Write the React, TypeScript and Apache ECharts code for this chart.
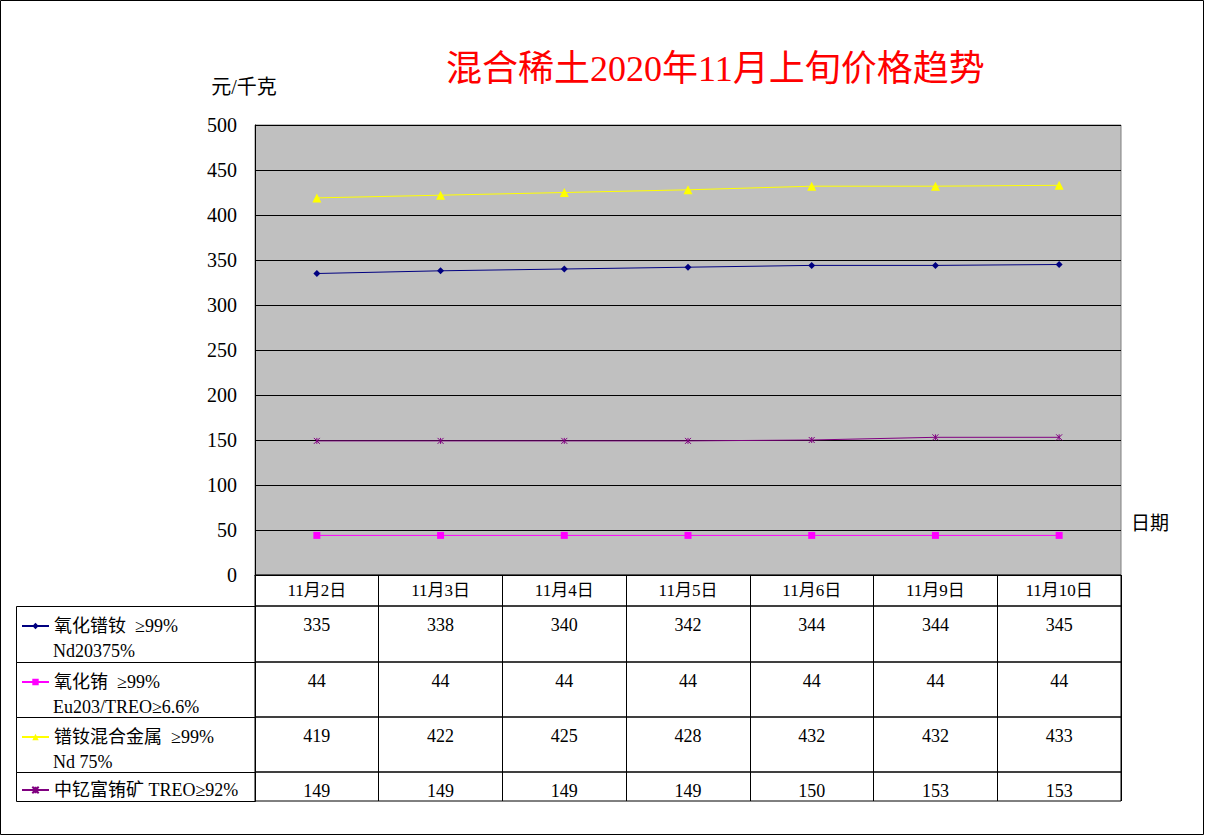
import * as echarts from 'echarts'
import React, { useEffect, useRef } from 'react'

const FONT = '"Liberation Serif", "Noto Sans CJK SC", serif'

const categories = ['11月2日', '11月3日', '11月4日', '11月5日', '11月6日', '11月9日', '11月10日']
const seriesNames = ['氧化镨钕  ≥99%', '氧化铕  ≥99%', '镨钕混合金属  ≥99%', '中钇富铕矿 TREO≥92%']
const seriesNotes = ['Nd20375%', 'Eu203/TREO≥6.6%', 'Nd 75%', '']
const ndOxide = [335, 338, 340, 342, 344, 344, 345]
const euOxide = [44, 44, 44, 44, 44, 44, 44]
const ndMetal = [419, 422, 425, 428, 432, 432, 433]
const yOre = [149, 149, 149, 149, 150, 153, 153]
const seriesData = [ndOxide, euOxide, ndMetal, yOre]
const seriesColors = ['#000080', '#FF00FF', '#FFFF00', '#800080']
const seriesSymbols = ['diamond', 'rect', 'triangle', 'path://M0,0L8,8M8,0L0,8M4,0L4,8']
const symbolSizes = [7, 7, 9, 6]

// table rows: [top, height] under the plot
const rowBoxes = [
  [606, 56],
  [662, 55],
  [717, 55],
  [772, 29],
]

export default function App() {
  const chartRef = useRef(null)

  useEffect(() => {
    document.body.style.margin = '0'
    const chart = echarts.init(chartRef.current, null, { renderer: 'svg' })

    const plotLeft = 255
    const plotWidth = 866

    const grids: any[] = [
      {
        left: plotLeft,
        top: 125,
        width: plotWidth,
        height: 450,
        show: true,
        backgroundColor: '#C0C0C0',
        borderColor: '#808080',
        borderWidth: 1,
      },
      {
        left: plotLeft,
        top: 575,
        width: plotWidth,
        height: 31,
        show: true,
        borderColor: '#000',
        borderWidth: 1,
      },
    ]
    rowBoxes.forEach(([top, h]) => {
      grids.push({
        left: plotLeft,
        top,
        width: plotWidth,
        height: h,
        show: true,
        borderColor: '#000',
        borderWidth: 1,
      })
    })

    const xAxes: any[] = [
      {
        type: 'category',
        data: categories,
        gridIndex: 0,
        axisLine: { show: true, lineStyle: { color: '#000' } },
        axisTick: { show: false },
        axisLabel: {
          interval: 0,
          margin: 7,
          color: '#000',
          fontSize: 17,
          fontFamily: FONT,
        },
        name: '日期',
        nameLocation: 'end',
        nameGap: 10,
        nameTextStyle: {
          color: '#000',
          fontSize: 19,
          fontFamily: FONT,
          align: 'left',
          verticalAlign: 'bottom',
          padding: [0, 0, 42, 0],
        },
      },
      {
        type: 'category',
        data: categories,
        gridIndex: 1,
        axisLine: { show: false },
        axisTick: { show: false },
        axisLabel: { show: false },
        splitLine: { show: true, interval: 0, lineStyle: { color: '#000' } },
      },
    ]
    seriesData.forEach((vals, i) => {
      xAxes.push({
        type: 'category',
        data: categories,
        gridIndex: i + 2,
        position: 'top',
        axisLine: { show: false },
        axisTick: { show: false },
        splitLine: { show: true, interval: 0, lineStyle: { color: '#000' } },
        axisLabel: {
          inside: true,
          interval: 0,
          margin: 10,
          color: '#000',
          fontSize: 18,
          fontFamily: FONT,
          formatter: (_: string, idx: number) => String(vals[idx]),
        },
      })
    })

    const yAxes: any[] = [
      {
        type: 'value',
        gridIndex: 0,
        min: 0,
        max: 500,
        interval: 50,
        axisLine: { show: true, lineStyle: { color: '#000' } },
        axisTick: { show: false },
        splitLine: { show: true, lineStyle: { color: '#000', width: 1 } },
        axisLabel: { color: '#000', fontSize: 20, fontFamily: FONT, margin: 18 },
        name: '元/千克',
        nameLocation: 'end',
        nameGap: 28,
        nameTextStyle: {
          color: '#000',
          fontSize: 20,
          fontFamily: FONT,
          padding: [0, 22, 0, 0],
        },
      },
    ]
    for (let i = 1; i < grids.length; i++) {
      yAxes.push({ type: 'value', gridIndex: i, min: 0, max: 1, show: false })
    }

    const legends = seriesNames.map((name, i) => ({
      data: [name],
      left: 21,
      top: rowBoxes[i][0] + (i === 3 ? 9 : 11),
      padding: 0,
      itemWidth: 27,
      itemHeight: 8,
      itemGap: 5,
      selectedMode: false,
      textStyle: { color: '#000', fontSize: 18, fontFamily: FONT },
    }))

    const graphics: any[] = [
      {
        type: 'rect',
        shape: { x: 0.5, y: 0.5, width: 1203, height: 834 },
        style: { fill: 'none', stroke: '#000', lineWidth: 1 },
        silent: true,
      },
    ]
    rowBoxes.forEach(([top, h], i) => {
      graphics.push({
        type: 'rect',
        shape: { x: 16.5, y: top + 0.5, width: plotLeft - 16, height: h },
        style: { fill: 'none', stroke: '#000', lineWidth: 1 },
        silent: true,
      })
      if (seriesNotes[i]) {
        graphics.push({
          type: 'text',
          x: 53,
          y: top + 45,
          style: {
            text: seriesNotes[i],
            fill: '#000',
            fontSize: 18,
            fontFamily: FONT,
            verticalAlign: 'middle',
          },
          silent: true,
        })
      }
    })

    const option = {
      animation: false,
      title: {
        text: '混合稀土2020年11月上旬价格趋势',
        left: 441,
        top: 46,
        textStyle: { color: '#FF0000', fontSize: 36, fontWeight: 'normal', fontFamily: FONT },
      },
      legend: legends,
      grid: grids,
      xAxis: xAxes,
      yAxis: yAxes,
      graphic: graphics,
      series: seriesData.map((vals, i) => ({
        name: seriesNames[i],
        type: 'line',
        xAxisIndex: 0,
        yAxisIndex: 0,
        data: vals,
        symbol: seriesSymbols[i],
        symbolSize: symbolSizes[i],
        showAllSymbol: true,
        lineStyle: { color: seriesColors[i], width: 1 },
        itemStyle: {
          color: seriesColors[i],
          borderColor: seriesColors[i],
          borderWidth: i === 3 ? 1 : 0,
        },
        emphasis: { disabled: true },
      })),
    }

    chart.setOption(option)
    return () => {
      chart.dispose()
    }
  }, [])

  return <div ref={chartRef} style={{ width: '1205px', height: '836px' }} />
}
